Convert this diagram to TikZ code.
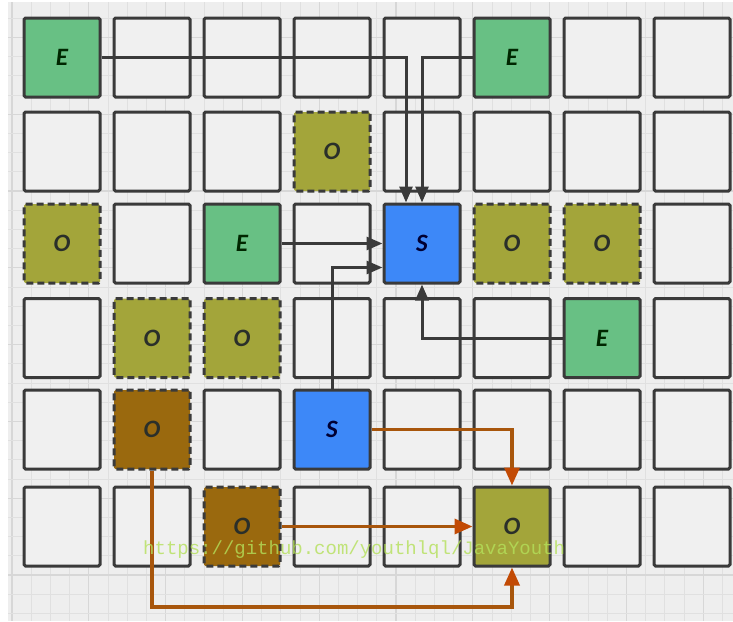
\documentclass[tikz,border=0pt]{standalone}
\usepackage{fontspec}
\newfontfamily\lblfont{Carlito}
\newfontfamily\wmfont{Liberation Mono}
\usetikzlibrary{arrows.meta}
\definecolor{bgc}{HTML}{EEEEEE}
\definecolor{gridminor}{HTML}{E0E0E0}
\definecolor{gridmajor}{HTML}{D7D7D7}
\definecolor{cellline}{HTML}{3A3A3A}
\definecolor{cellfill}{HTML}{F0F0F0}
\definecolor{egreen}{HTML}{68C084}
\definecolor{sblue}{HTML}{3D88F8}
\definecolor{olivec}{HTML}{A3A53A}
\definecolor{brownc}{HTML}{9A690E}
\definecolor{labtext}{HTML}{2A2F2A}
\definecolor{darkarrow}{HTML}{3A3A3A}
\definecolor{brownarrow}{HTML}{A8560C}
\definecolor{brownhead}{HTML}{C24A04}
\definecolor{wmc}{HTML}{B4E05A}
\begin{document}
\begin{tikzpicture}[x=1pt,y=-1pt,
  cell/.style={draw=cellline, line width=3pt, fill=cellfill,
    minimum width=76pt, minimum height=79pt, rounded corners=1.5pt,
    inner sep=0pt, text=labtext,
    font=\lblfont\bfseries\itshape\fontsize{25}{25}\selectfont},
  ecell/.style={cell, fill=egreen, text={black!75!green!60!black}},
  scell/.style={cell, fill=sblue, text={black!80!blue}},
  ocell/.style={cell, fill=olivec, dash pattern=on 7pt off 4pt},
  bcell/.style={cell, fill=brownc, dash pattern=on 7pt off 4pt},
  tcell/.style={cell, fill=olivec},
  darr/.style={draw=darkarrow, line width=3pt,
    -{Triangle[length=16pt,width=13pt,fill=darkarrow]}},
  barr/.style={draw=brownarrow, line width=3.4pt,
    -{Triangle[length=18pt,width=15pt,color=brownhead]}},
  gminor/.style={draw=gridminor, line width=1pt},
  gmajor/.style={draw=gridmajor, line width=1.1pt}
]
\useasboundingbox (0,0) rectangle (733,621);
\fill[white] (0,0) rectangle (733,621);
\fill[bgc] (8,2) rectangle (733,621);
\foreach \i in {0,...,37} {
  \pgfmathsetmacro\gx{12+19.2*\i}
  \pgfmathtruncatemacro\gm{mod(\i,4)}
  \ifnum\gm=0 \draw[gmajor] (\gx,2) -- (\gx,621);
  \else \draw[gminor] (\gx,2) -- (\gx,621); \fi
}
\foreach \j in {-2,...,29} {
  \pgfmathsetmacro\gy{575-19.2*\j}
  \pgfmathtruncatemacro\gm{mod(\j+40,4)}
  \ifnum\gm=0 \draw[gmajor] (8,\gy) -- (733,\gy);
  \else \draw[gminor] (8,\gy) -- (733,\gy); \fi
}

\def\rowys{{57.5,151.5,243.5,338,429.5,526.5}}
\foreach \r/\cols in {1/{2,3,4,5,7,8},2/{1,2,3,5,6,7,8},3/{2,4,8},4/{1,4,5,6,8},5/{1,3,5,6,7,8},6/{1,2,4,5,7,8}}{
  \foreach \c in \cols {
    \pgfmathsetmacro\yy{\rowys[\r-1]}
    \node[cell] (n\r\c) at ({62+90*(\c-1)},\yy) {};
  }
}

\node[ecell] (e1) at (62,57.5) {E};
\node[ecell] (e2) at (512,57.5) {E};
\node[ocell] (o1) at (332,151.5) {O};
\node[ocell] (o2) at (62,243.5) {O};
\node[ecell] (e3) at (242,243.5) {E};
\node[scell] (s1) at (422,243.5) {S};
\node[ocell] (o3) at (512,243.5) {O};
\node[ocell] (o4) at (602,243.5) {O};
\node[ocell] (o5) at (152,338) {O};
\node[ocell] (o6) at (242,338) {O};
\node[ecell] (e4) at (602,338) {E};
\node[bcell] (b1) at (152,429.5) {O};
\node[scell] (s2) at (332,429.5) {S};
\node[bcell] (b2) at (242,526.5) {O};
\node[tcell] (t) at (512,526.5) {O};

\coordinate (low) at (0,607);

\draw[darr] (e1.east) -| ([xshift=-16pt]s1.north);
\draw[darr] (e2.west) -| (s1.north);
\draw[darr] (e3.east) -- (s1.west);
\draw[darr] (s2.north) |- ([yshift=-24pt]s1.west);
\draw[darr] (e4.west) -| (s1.south);

\draw[barr] (s2.east) -| (t.north);
\draw[barr] (b2.east) -- (t.west);
\draw[barr] (b1.south) -- (b1.south |- low) -| (t.south);

\node[font=\wmfont\fontsize{19}{19}\selectfont, text=wmc, opacity=0.8,
  anchor=west, inner sep=0pt] (wm) at (143,550) {https://github.com/youthlql/JavaYouth};
\end{tikzpicture}
\end{document}
